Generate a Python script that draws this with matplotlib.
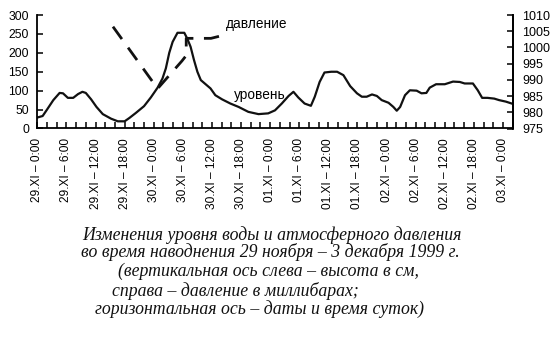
import matplotlib.pyplot as plt
from matplotlib.ticker import MultipleLocator
from matplotlib import font_manager

# water level (cm, left axis) vs hours since 29.XI 0:00
hours = [0, 1.1, 1.9, 3.3, 4.6, 5.3, 6.3, 7.4, 8.4, 9.3, 10.0, 11.1, 12.2, 13.5,
         15.2, 16.6, 18.0, 19.0, 20.3, 22.0, 23.4, 24.8, 25.8, 26.5, 27.2, 27.9,
         28.9, 30.3, 30.9, 31.6, 32.3, 33.0, 33.7, 34.7, 35.7, 36.7, 38.1, 39.8,
         41.5, 43.5, 45.6, 47.6, 49.0, 50.4, 51.8, 52.8, 53.8, 55.1, 56.4, 57.2,
         58.2, 59.2, 60.6, 61.8, 63.1, 64.5, 65.9, 66.9, 67.9, 69.0, 70.0, 71.0,
         72.4, 73.4, 74.1, 74.8, 75.8, 76.8, 78.2, 79.2, 80.2, 80.9, 82.2, 84.0,
         85.7, 87.1, 88.1, 89.8, 90.8, 91.7, 92.8, 94.2, 95.2, 96.6, 97.8]
level = [29, 33, 48, 75, 94, 93, 81, 81, 91, 97, 94, 77, 57, 38,
         26, 19, 19, 28, 41, 59, 82, 108, 132, 159, 200, 229,
         253, 253, 238, 216, 181, 150, 128, 117, 106, 88, 77, 66,
         57, 44, 38, 40, 48, 66, 86, 97, 82, 66, 60, 84,
         123, 148, 150, 150, 141, 112, 93, 84, 84, 90, 86, 75,
         68, 57, 47, 57, 88, 101, 100, 93, 94, 108, 117, 117,
         124, 123, 119, 119, 101, 81, 81, 79, 75, 71, 66]

# atmospheric pressure (mbar, right axis)
p_hours = [15.6, 24.8, 29.8, 30.7, 30.7, 35.8, 38.2]
pressure = [1006.4, 987.3, 995.8, 997.5, 1002.8, 1002.8, 1003.7]

tick_labels = ["29.XI – 0:00", "29.XI – 6:00", "29.XI – 12:00", "29.XI – 18:00",
               "30.XI – 0:00", "30.XI – 6:00", "30.XI – 12:00", "30.XI – 18:00",
               "01.XI – 0:00", "01.XI – 6:00", "01.XI – 12:00", "01.XI – 18:00",
               "02.XI – 0:00", "02.XI – 6:00", "02.XI – 12:00", "02.XI – 18:00",
               "03.XI – 0:00"]

names = {f.name for f in font_manager.fontManager.ttflist}
narrow = "Liberation Sans Narrow" if "Liberation Sans Narrow" in names else "Liberation Sans"

fig = plt.figure(figsize=(5.5, 3.48), dpi=100, facecolor="white")
ax = fig.add_axes([37.3 / 550, 1 - 128.5 / 348, (512.7 - 37.3) / 550, 113.5 / 348])
ax2 = ax.twinx()

ax.plot(hours, level, color="#111111", lw=1.6, solid_joinstyle="round")
ax2.plot(p_hours, pressure, color="#111111", lw=2.0, linestyle=(0, (5.5, 3.8)))

ax.set_xlim(0, 98)
ax.set_ylim(0, 300)
ax2.set_ylim(975, 1010)

for a in (ax, ax2):
    a.spines["top"].set_visible(False)
    for s in a.spines.values():
        s.set_linewidth(1.3)
ax2.spines["left"].set_visible(False)
ax2.spines["bottom"].set_visible(False)

ax.xaxis.set_major_locator(MultipleLocator(6))
ax.xaxis.set_minor_locator(MultipleLocator(2))
ax.set_xticks(range(0, 97, 6))
ax.set_xticklabels(tick_labels, rotation=90, fontsize=8.6, family=narrow, va="top")
ax.tick_params(axis="x", which="both", direction="in", length=4.5, width=1.1, pad=7)

ax.set_yticks(range(0, 301, 50))
ax.tick_params(axis="y", direction="in", length=4.5, width=1.1, pad=6, labelsize=8.8)
for t in ax.get_yticklabels():
    t.set_family("Liberation Sans")

ax2.set_yticks(range(975, 1011, 5))
ax2.tick_params(axis="y", direction="in", length=4.5, width=1.1, pad=7, labelsize=9)
for t in ax2.get_yticklabels():
    t.set_family(narrow)

ax.text(38.9, 276, "давление", fontsize=9.8, family=narrow, va="center")
ax.text(40.5, 88, "уровень", fontsize=9.8, family=narrow, va="center")

cap = dict(fontsize=12.8, family="Liberation Serif", style="italic", va="center",
           color="#111111")
fig.text(82 / 550, 1 - 235 / 348, "Изменения уровня воды и атмосферного давления", **cap)
fig.text(81 / 550, 1 - 252 / 348, "во время наводнения 29 ноября – 3 декабря 1999 г.", **cap)
fig.text(118 / 550, 1 - 271 / 348, "(вертикальная ось слева – высота в см,", **cap)
fig.text(112 / 550, 1 - 291 / 348, "справа – давление в миллибарах;", **cap)
fig.text(95 / 550, 1 - 309 / 348, "горизонтальная ось – даты и время суток)", **cap)

fig.savefig("out.png", dpi=100, facecolor="white")
